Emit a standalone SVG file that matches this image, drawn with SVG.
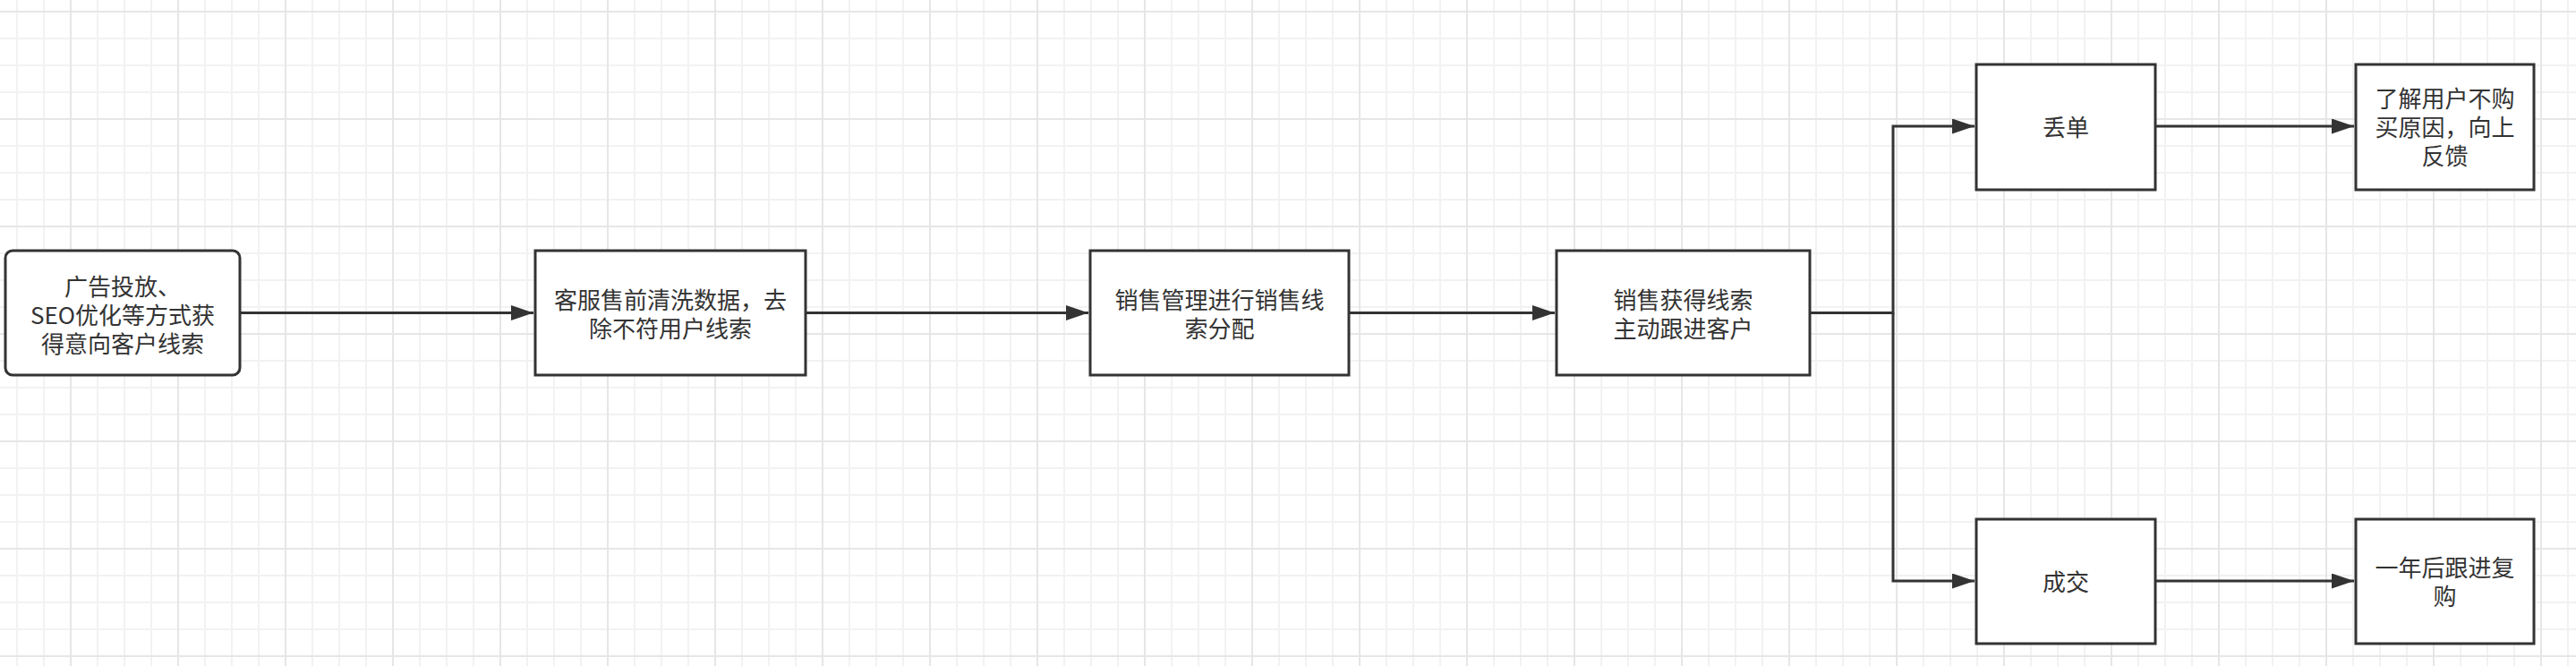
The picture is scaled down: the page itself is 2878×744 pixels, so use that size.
<svg xmlns="http://www.w3.org/2000/svg" width="2878" height="744" viewBox="0 0 2878 744">
<style>
.box{fill:#ffffff;stroke:#333333;stroke-width:3}
.t{font-family:"Noto Sans CJK SC","Microsoft YaHei",sans-serif;font-size:26px;fill:#333333;text-anchor:middle}
.c{fill:none;stroke:#333333;stroke-width:3}
</style>
<defs>
<pattern id="grid" x="78" y="12" width="120" height="120" patternUnits="userSpaceOnUse">
<rect x="30" y="0" width="2" height="120" fill="#f2f2f2"/>
<rect x="60" y="0" width="2" height="120" fill="#f2f2f2"/>
<rect x="90" y="0" width="2" height="120" fill="#f2f2f2"/>
<rect x="0" y="30" width="120" height="2" fill="#f2f2f2"/>
<rect x="0" y="60" width="120" height="2" fill="#f2f2f2"/>
<rect x="0" y="90" width="120" height="2" fill="#f2f2f2"/>
<rect x="0" y="0" width="2" height="120" fill="#e6e6e6"/>
<rect x="0" y="0" width="120" height="2" fill="#e6e6e6"/>
</pattern>
<marker id="arr" markerWidth="25" markerHeight="17" refX="25" refY="8.5" orient="auto" markerUnits="userSpaceOnUse">
<path d="M0,0 L25,8.5 L0,17 Z" fill="#333333"/>
</marker>
</defs>
<rect x="0" y="0" width="2878" height="744" fill="#ffffff"/>
<rect x="0" y="0" width="2878" height="744" fill="url(#grid)"/>

<g id="connectors">
<path class="c" d="M268,349.5 H596" marker-end="url(#arr)"/>
<path class="c" d="M900,349.5 H1216" marker-end="url(#arr)"/>
<path class="c" d="M1507,349.5 H1737" marker-end="url(#arr)"/>
<path class="c" d="M2022,349.5 H2115 V141 H2206" marker-end="url(#arr)"/>
<path class="c" d="M2115,349.5 V649 H2206" marker-end="url(#arr)"/>
<path class="c" d="M2408,141 H2630" marker-end="url(#arr)"/>
<path class="c" d="M2408,649 H2630" marker-end="url(#arr)"/>
</g>

<g id="n1">
<rect class="box" x="6" y="280" width="262" height="139" rx="8" ry="8"/>
<text class="t"><tspan x="137" y="329.5">广告投放、</tspan><tspan x="137" y="361.5">SEO优化等方式获</tspan><tspan x="137" y="393.5">得意向客户线索</tspan></text>
</g>
<g id="n2">
<rect class="box" x="598" y="280" width="302" height="139"/>
<text class="t"><tspan x="749" y="345">客服售前清洗数据，去</tspan><tspan x="749" y="377">除不符用户线索</tspan></text>
</g>
<g id="n3">
<rect class="box" x="1218" y="280" width="289" height="139"/>
<text class="t"><tspan x="1362.5" y="345">销售管理进行销售线</tspan><tspan x="1362.5" y="377">索分配</tspan></text>
</g>
<g id="n4">
<rect class="box" x="1739" y="280" width="283" height="139"/>
<text class="t"><tspan x="1880.5" y="345">销售获得线索</tspan><tspan x="1880.5" y="377">主动跟进客户</tspan></text>
</g>
<g id="n5">
<rect class="box" x="2208" y="72" width="200" height="140"/>
<text class="t" x="2308" y="152">丢单</text>
</g>
<g id="n6">
<rect class="box" x="2632" y="72" width="199" height="140"/>
<text class="t"><tspan x="2731.5" y="119.5">了解用户不购</tspan><tspan x="2731.5" y="151.5">买原因，向上</tspan><tspan x="2731.5" y="183.5">反馈</tspan></text>
</g>
<g id="n7">
<rect class="box" x="2208" y="580" width="200" height="139"/>
<text class="t" x="2308" y="660">成交</text>
</g>
<g id="n8">
<rect class="box" x="2632" y="580" width="199" height="139"/>
<text class="t"><tspan x="2731.5" y="644">一年后跟进复</tspan><tspan x="2731.5" y="676">购</tspan></text>
</g>
</svg>
